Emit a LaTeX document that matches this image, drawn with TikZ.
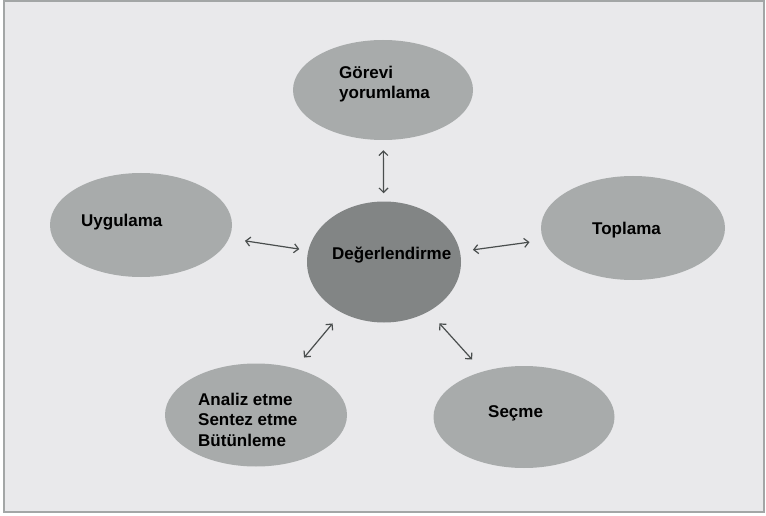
\documentclass[tikz,border=0pt]{standalone}
\usepackage{fontspec}
\setmainfont{Liberation Sans}
\usetikzlibrary{arrows.meta,shapes.geometric}
\definecolor{bg}{HTML}{E9E9EB}
\definecolor{framec}{HTML}{A3A6A6}
\definecolor{ell}{HTML}{A8ABAB}
\definecolor{ctr}{HTML}{828585}
\definecolor{arr}{HTML}{4A4E4E}
\begin{document}
\begin{tikzpicture}[x=1pt,y=-1pt,
  bub/.style={ellipse, fill=ell, draw=none, inner sep=0pt, minimum width=182pt, minimum height=103pt},
  lbl/.style={font=\bfseries\fontsize{17}{20.5}\selectfont, inner sep=0pt, align=left, anchor=base west, text=black},
  link/.style={draw=arr, line width=1.2pt, {Straight Barb[length=4.5pt,width=9pt]}-{Straight Barb[length=4.5pt,width=9pt]}}]
\useasboundingbox (0,0) rectangle (766,516);
\fill[white] (0,0) rectangle (766,516);
\draw[draw=framec, line width=1.5pt, fill=bg] (4,1) rectangle (764,512);

\node[bub, minimum width=180pt, minimum height=100pt] (gorev) at (383,90) {};
\node[bub, minimum width=182pt, minimum height=104pt] (uyg) at (141,225) {};
\node[bub, minimum width=184pt, minimum height=104pt] (topl) at (633,228) {};
\node[bub, fill=ctr, minimum width=154pt, minimum height=121pt] (deg) at (384,262) {};
\node[bub] (ana) at (256,415) {};
\node[bub, minimum width=181pt, minimum height=102pt] (sec) at (524,417) {};

\node[lbl] (tgorev) at (339,99) {Görevi\\yorumlama};
\node[lbl] (tuyg) at (81,226) {Uygulama};
\node[lbl] (ttopl) at (592,234) {Toplama};
\node[lbl] (tdeg) at (332,259) {Değerlendirme};
\node[lbl] (tana) at (198,446) {Analiz etme\\Sentez etme\\Bütünleme};
\node[lbl] (tsec) at (488,417) {Seçme};

\draw[link, shorten <=10pt, shorten >=8pt] (gorev) -- (deg);
\draw[link, shorten <=16pt, shorten >=9pt] (uyg) -- (deg);
\draw[link, shorten <=13pt, shorten >=14pt] (deg) -- (topl);
\draw[link, shorten <=14pt, shorten >=14pt] (ana) -- (deg);
\draw[link, shorten <=16pt, shorten >=16pt] (sec) -- (deg);
\end{tikzpicture}
\end{document}
